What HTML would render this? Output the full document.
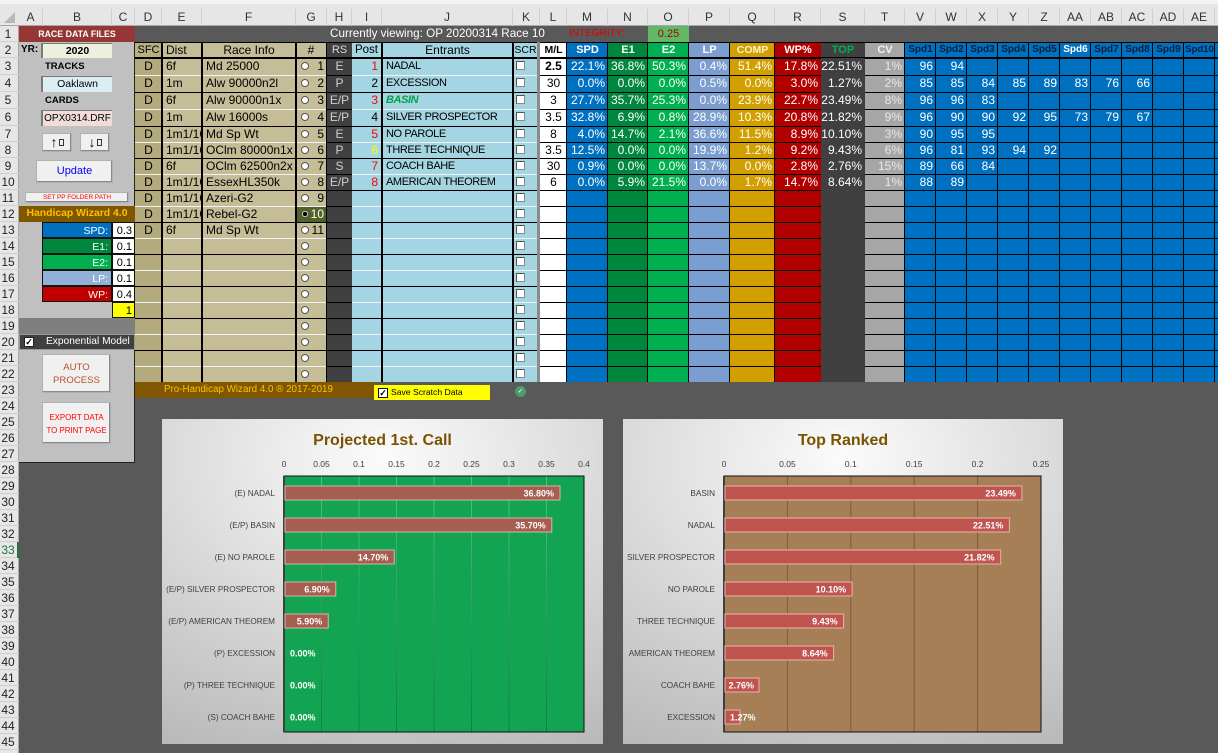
<!DOCTYPE html>
<html><head><meta charset="utf-8">
<style>
*{margin:0;padding:0;box-sizing:border-box}
body{width:1218px;height:753px;overflow:hidden;background:#595959}
#w{position:relative;width:1218px;height:753px;overflow:hidden;background:#595959;font-family:"Liberation Sans",Arial,sans-serif;font-size:12px;color:#000}
.a{position:absolute}
.t{position:absolute;white-space:nowrap;overflow:hidden;top:0;height:100%}
.rw{position:absolute;left:0;width:1218px}
.c{text-align:center}
.r{text-align:right;padding-right:3px}
.l{padding-left:3px}
.w{color:#fff}
.tc{color:#e8e8e8}
.cD{left:135px;width:27px}
.cE{left:163px;width:38px}
.cF{left:203px;width:92px}
.cG{left:296px;width:31px}
.cH{left:327px;width:25px}
.cI{left:352px;width:29px}
.cJ{left:383px;width:129px}
.cK{left:513px;width:27px}
.cL{left:540px;width:27px}
.cM{left:567px;width:41px}
.cN{left:608px;width:40px}
.cO{left:648px;width:41px}
.cP{left:689px;width:41px}
.cQ{left:730px;width:45px}
.cR{left:775px;width:46px}
.cS{left:821px;width:44px}
.cT{left:865px;width:40px}
.v{width:31px}
.v1{left:905px}.v2{left:936px}.v3{left:967px}.v4{left:998px}.v5{left:1029px}.v6{left:1060px}.v7{left:1091px}.v8{left:1122px}.v9{left:1153px}.v10{left:1184px}
.nm{font-size:11px;letter-spacing:-.4px}
.hc{color:#d0d0d0}
.rd{position:absolute;left:301px;top:4px;width:8px;height:8px;border-radius:50%;background:#fff;border:1px solid #555}
.cb{position:absolute;left:516px;top:3px;width:9px;height:9px;background:#fff;border:1px solid #8a8a8a;border-top-color:#555;border-left-color:#555}
.hl{position:absolute;height:1px;background:#000;left:135px;width:1083px}
.hw{position:absolute;height:1px;background:#eef3f3}
.vl{position:absolute;width:1px;top:42px;height:340px;background:#000}
.vb{position:absolute;width:2px;top:42px;height:340px;background:#000}
.ch{position:absolute;top:9px;height:17px;line-height:17px;text-align:center;color:#333;font-size:12px;border-right:1px solid #cfcfcf}
.rn{position:absolute;left:0;width:19px;padding-right:3px;text-align:center;font-size:12px;color:#222;border-bottom:1px solid #cfcfcf}
.btn{position:absolute;background:#f0f0f0;border:1px solid #b0b0b0;box-shadow:inset -1px -1px 0 #8a8a8a;text-align:center}
.bg{position:absolute}
.hd{position:absolute;top:42px;height:16px;line-height:16px;text-align:center;white-space:nowrap;overflow:hidden}
</style></head><body><div id="w">

<!-- column header -->
<div class="bg" style="left:0;top:0;width:1218px;height:26px;background:#e6e6e6;border-bottom:1px solid #a8a8a8"></div>
<div class="bg" style="left:0;top:0;width:1218px;height:4px;background:#f4f4f4"></div>
<div class="bg" style="left:4px;top:12px;width:0;height:0;border-left:11px solid transparent;border-bottom:11px solid #b8b8b8"></div>
<div class="ch" style="left:19px;width:24px">A</div>
<div class="ch" style="left:43px;width:69px">B</div>
<div class="ch" style="left:112px;width:23px">C</div>
<div class="ch" style="left:135px;width:27px">D</div>
<div class="ch" style="left:162px;width:40px">E</div>
<div class="ch" style="left:202px;width:94px">F</div>
<div class="ch" style="left:296px;width:31px">G</div>
<div class="ch" style="left:327px;width:25px">H</div>
<div class="ch" style="left:352px;width:30px">I</div>
<div class="ch" style="left:382px;width:131px">J</div>
<div class="ch" style="left:513px;width:27px">K</div>
<div class="ch" style="left:540px;width:27px">L</div>
<div class="ch" style="left:567px;width:41px">M</div>
<div class="ch" style="left:608px;width:40px">N</div>
<div class="ch" style="left:648px;width:41px">O</div>
<div class="ch" style="left:689px;width:41px">P</div>
<div class="ch" style="left:730px;width:45px">Q</div>
<div class="ch" style="left:775px;width:46px">R</div>
<div class="ch" style="left:821px;width:44px">S</div>
<div class="ch" style="left:865px;width:40px">T</div>
<div class="ch" style="left:905px;width:31px">V</div>
<div class="ch" style="left:936px;width:31px">W</div>
<div class="ch" style="left:967px;width:31px">X</div>
<div class="ch" style="left:998px;width:31px">Y</div>
<div class="ch" style="left:1029px;width:31px">Z</div>
<div class="ch" style="left:1060px;width:31px">AA</div>
<div class="ch" style="left:1091px;width:31px">AB</div>
<div class="ch" style="left:1122px;width:31px">AC</div>
<div class="ch" style="left:1153px;width:31px">AD</div>
<div class="ch" style="left:1184px;width:31px">AE</div>

<!-- row header -->
<div class="bg" style="left:0;top:26px;width:19px;height:727px;background:#e6e6e6;border-right:1px solid #a8a8a8"></div>
<div class="rn" style="top:26px;height:16px;line-height:16px">1</div>
<div class="rn" style="top:42px;height:16px;line-height:16px">2</div>
<div class="rn" style="top:58px;height:17px;line-height:17px">3</div>
<div class="rn" style="top:75px;height:17px;line-height:17px">4</div>
<div class="rn" style="top:92px;height:17px;line-height:17px">5</div>
<div class="rn" style="top:109px;height:17px;line-height:17px">6</div>
<div class="rn" style="top:126px;height:16px;line-height:16px">7</div>
<div class="rn" style="top:142px;height:16px;line-height:16px">8</div>
<div class="rn" style="top:158px;height:16px;line-height:16px">9</div>
<div class="rn" style="top:174px;height:16px;line-height:16px">10</div>
<div class="rn" style="top:190px;height:16px;line-height:16px">11</div>
<div class="rn" style="top:206px;height:16px;line-height:16px">12</div>
<div class="rn" style="top:222px;height:16px;line-height:16px">13</div>
<div class="rn" style="top:238px;height:16px;line-height:16px">14</div>
<div class="rn" style="top:254px;height:16px;line-height:16px">15</div>
<div class="rn" style="top:270px;height:16px;line-height:16px">16</div>
<div class="rn" style="top:286px;height:16px;line-height:16px">17</div>
<div class="rn" style="top:302px;height:16px;line-height:16px">18</div>
<div class="rn" style="top:318px;height:16px;line-height:16px">19</div>
<div class="rn" style="top:334px;height:16px;line-height:16px">20</div>
<div class="rn" style="top:350px;height:16px;line-height:16px">21</div>
<div class="rn" style="top:366px;height:16px;line-height:16px">22</div>
<div class="rn" style="top:382px;height:16px;line-height:16px">23</div>
<div class="rn" style="top:398px;height:16px;line-height:16px">24</div>
<div class="rn" style="top:414px;height:16px;line-height:16px">25</div>
<div class="rn" style="top:430px;height:16px;line-height:16px">26</div>
<div class="rn" style="top:446px;height:16px;line-height:16px">27</div>
<div class="rn" style="top:462px;height:16px;line-height:16px">28</div>
<div class="rn" style="top:478px;height:16px;line-height:16px">29</div>
<div class="rn" style="top:494px;height:16px;line-height:16px">30</div>
<div class="rn" style="top:510px;height:16px;line-height:16px">31</div>
<div class="rn" style="top:526px;height:16px;line-height:16px">32</div>
<div class="rn" style="top:542px;height:16px;line-height:16px;color:#217346">33</div>
<div class="bg" style="left:17px;top:542px;width:2px;height:16px;background:#217346"></div>
<div class="rn" style="top:558px;height:16px;line-height:16px">34</div>
<div class="rn" style="top:574px;height:16px;line-height:16px">35</div>
<div class="rn" style="top:590px;height:16px;line-height:16px">36</div>
<div class="rn" style="top:606px;height:16px;line-height:16px">37</div>
<div class="rn" style="top:622px;height:16px;line-height:16px">38</div>
<div class="rn" style="top:638px;height:16px;line-height:16px">39</div>
<div class="rn" style="top:654px;height:16px;line-height:16px">40</div>
<div class="rn" style="top:670px;height:16px;line-height:16px">41</div>
<div class="rn" style="top:686px;height:16px;line-height:16px">42</div>
<div class="rn" style="top:702px;height:16px;line-height:16px">43</div>
<div class="rn" style="top:718px;height:16px;line-height:16px">44</div>
<div class="rn" style="top:734px;height:16px;line-height:16px">45</div>

<!-- left panel -->
<div class="bg" style="left:19px;top:26px;width:116px;height:16px;background:#953735;color:#fff;font-weight:bold;font-size:8.8px;line-height:16px;text-align:center">RACE DATA FILES</div>
<div class="bg" style="left:19px;top:42px;width:116px;height:421px;background:#c0c0c0;border-right:1px solid #222;border-bottom:1px solid #222"></div>
<div class="bg" style="left:21px;top:42px;height:16px;line-height:16px;font-weight:bold;font-size:10px">YR:</div>
<div class="bg" style="left:41px;top:43px;width:71px;height:15px;line-height:14px;background:#ebf1de;border-left:2px solid #7a7a7a;border-top:1px solid #7a7a7a;text-align:center;font-weight:bold;font-size:10.5px">2020</div>
<div class="bg" style="left:45px;top:58px;height:17px;line-height:17px;font-weight:bold;font-size:9.5px">TRACKS</div>
<div class="bg" style="left:41px;top:76px;width:71px;height:16px;line-height:15px;background:#daeef3;border-left:2px solid #7a7a7a;border-top:1px solid #7a7a7a;text-align:center;font-size:10.5px">Oaklawn</div>
<div class="bg" style="left:45px;top:92px;height:17px;line-height:17px;font-weight:bold;font-size:9.5px">CARDS</div>
<div class="bg" style="left:41px;top:110px;width:71px;height:16px;line-height:15px;background:#f2dcdb;border-left:2px solid #7a7a7a;border-top:1px solid #7a7a7a;text-align:center;font-size:10px">OPX0314.DRF</div>
<div class="btn" style="left:42px;top:133px;width:30px;height:19px;line-height:17px;font-weight:bold;font-size:14px">↑<span style="display:inline-block;width:5px;height:7px;border:1px solid #333;margin-left:1px;vertical-align:1px"></span></div>
<div class="btn" style="left:80px;top:133px;width:30px;height:19px;line-height:17px;font-weight:bold;font-size:14px">↓<span style="display:inline-block;width:5px;height:7px;border:1px solid #333;margin-left:1px;vertical-align:1px"></span></div>
<div class="btn" style="left:36px;top:160px;width:77px;height:23px;line-height:21px;color:#0000ff;font-size:11px">Update</div>
<div class="btn" style="left:25px;top:192px;width:104px;height:11px;line-height:10px;color:#ff0000;font-size:6.4px">SET PP FOLDER PATH</div>
<div class="bg" style="left:19px;top:206px;width:116px;height:16px;line-height:16px;background:#7f5700;color:#ffc000;font-weight:bold;font-size:10.4px;text-align:center">Handicap Wizard 4.0</div>
<div class="bg" style="left:42px;top:222px;width:70px;height:16px;line-height:16px;background:#0070c0;color:#fff;text-align:right;padding-right:3px;font-size:10.5px;border:1px solid #111">SPD:</div>
<div class="bg" style="left:42px;top:238px;width:70px;height:16px;line-height:16px;background:#00863d;color:#fff;text-align:right;padding-right:3px;font-size:10.5px;border:1px solid #111">E1:</div>
<div class="bg" style="left:42px;top:254px;width:70px;height:16px;line-height:16px;background:#00b050;color:#fff;text-align:right;padding-right:3px;font-size:10.5px;border:1px solid #111">E2:</div>
<div class="bg" style="left:42px;top:270px;width:70px;height:16px;line-height:16px;background:#92b0d8;color:#fff;text-align:right;padding-right:3px;font-size:10.5px;border:1px solid #111">LP:</div>
<div class="bg" style="left:42px;top:286px;width:70px;height:16px;line-height:16px;background:#c00000;color:#fff;text-align:right;padding-right:3px;font-size:10.5px;border:1px solid #111">WP:</div>
<div class="bg" style="left:112px;top:222px;width:23px;height:16px;line-height:16px;background:#fff;text-align:right;padding-right:2px;font-size:11px;border:1px solid #111">0.3</div>
<div class="bg" style="left:112px;top:238px;width:23px;height:16px;line-height:16px;background:#fff;text-align:right;padding-right:2px;font-size:11px;border:1px solid #111">0.1</div>
<div class="bg" style="left:112px;top:254px;width:23px;height:16px;line-height:16px;background:#fff;text-align:right;padding-right:2px;font-size:11px;border:1px solid #111">0.1</div>
<div class="bg" style="left:112px;top:270px;width:23px;height:16px;line-height:16px;background:#fff;text-align:right;padding-right:2px;font-size:11px;border:1px solid #111">0.1</div>
<div class="bg" style="left:112px;top:286px;width:23px;height:16px;line-height:16px;background:#fff;text-align:right;padding-right:2px;font-size:11px;border:1px solid #111">0.4</div>
<div class="bg" style="left:112px;top:302px;width:23px;height:16px;line-height:16px;background:#ffff00;text-align:right;padding-right:2px;font-size:11px;border:1px solid #111">1</div>
<div class="bg" style="left:19px;top:318px;width:116px;height:16px;background:#7f7f7f"></div>
<div class="bg" style="left:19px;top:334px;width:116px;height:16px;background:#404040;border:1px solid #9a9a9a"></div>
<div class="bg" style="left:24px;top:337px;width:10px;height:10px;background:#fff;border:1px solid #222;font-size:9px;line-height:8px;text-align:center;font-weight:bold">✓</div>
<div class="bg" style="left:46px;top:334px;height:16px;line-height:16px;color:#fff;font-size:10.2px">Exponential Model</div>
<div class="btn" style="left:42px;top:354px;width:69px;height:39px;padding-top:6px;line-height:13px;color:#b5502d;font-size:9.6px">AUTO<br>PROCESS</div>
<div class="btn" style="left:42px;top:402px;width:69px;height:42px;padding-top:8px;line-height:13px;color:#ff0000;font-size:7.9px">EXPORT DATA<br>TO PRINT PAGE</div>

<!-- row 1 -->
<div class="bg" style="left:330px;top:26px;height:16px;line-height:16px;color:#fff;font-size:11.7px;white-space:nowrap">Currently viewing: OP 20200314 Race 10</div>
<div class="bg" style="left:569px;top:26px;height:16px;line-height:16px;color:#e00000;font-size:10px">INTEGRITY:</div>
<div class="bg" style="left:648px;top:26px;width:41px;height:16px;line-height:16px;background:#63b866;color:#9c0006;font-size:11px;text-align:center">0.25</div>

<!-- row 2 header backgrounds -->
<div class="bg" style="left:135px;top:42px;width:27px;height:16px;background:#b8af84"></div>
<div class="bg" style="left:162px;top:42px;width:165px;height:16px;background:#c4bd97"></div>
<div class="bg" style="left:327px;top:42px;width:25px;height:16px;background:#404040"></div>
<div class="bg" style="left:352px;top:42px;width:188px;height:16px;background:#a5d5e2"></div>
<div class="bg" style="left:540px;top:42px;width:27px;height:16px;background:#fff"></div>
<div class="bg" style="left:567px;top:42px;width:41px;height:16px;background:#0070c0"></div>
<div class="bg" style="left:608px;top:42px;width:40px;height:16px;background:#00863d"></div>
<div class="bg" style="left:648px;top:42px;width:41px;height:16px;background:#00b050"></div>
<div class="bg" style="left:689px;top:42px;width:41px;height:16px;background:#7b9dd0"></div>
<div class="bg" style="left:730px;top:42px;width:45px;height:16px;background:#d19f00"></div>
<div class="bg" style="left:775px;top:42px;width:46px;height:16px;background:#b20000"></div>
<div class="bg" style="left:821px;top:42px;width:44px;height:16px;background:#404040"></div>
<div class="bg" style="left:865px;top:42px;width:40px;height:16px;background:#a6a6a6"></div>
<div class="bg" style="left:905px;top:42px;width:313px;height:16px;background:#0070c0"></div>

<!-- data column strips rows 3-22 -->
<div class="bg" style="left:135px;top:58px;width:27px;height:324px;background:#b3aa7e"></div>
<div class="bg" style="left:162px;top:58px;width:165px;height:324px;background:#c4bd97"></div>
<div class="bg" style="left:296px;top:206px;width:31px;height:16px;background:#4f6228"></div>
<div class="bg" style="left:327px;top:58px;width:25px;height:324px;background:#404040"></div>
<div class="bg" style="left:352px;top:58px;width:188px;height:324px;background:#a5d5e2"></div>
<div class="bg" style="left:540px;top:58px;width:27px;height:324px;background:#fff"></div>
<div class="bg" style="left:567px;top:58px;width:41px;height:324px;background:#0070c0"></div>
<div class="bg" style="left:608px;top:58px;width:40px;height:324px;background:#00863d"></div>
<div class="bg" style="left:648px;top:58px;width:41px;height:324px;background:#00b050"></div>
<div class="bg" style="left:689px;top:58px;width:41px;height:324px;background:#7b9dd0"></div>
<div class="bg" style="left:730px;top:58px;width:45px;height:324px;background:#d19f00"></div>
<div class="bg" style="left:775px;top:58px;width:46px;height:324px;background:#b20000"></div>
<div class="bg" style="left:865px;top:58px;width:40px;height:324px;background:#a6a6a6"></div>
<div class="bg" style="left:905px;top:58px;width:313px;height:324px;background:#0070c0"></div>

<!-- horizontal lines -->
<div class="hl" style="top:42px"></div>
<div class="hl" style="top:57px;height:2px"></div>
<div class="hl" style="top:75px"></div><div class="hl" style="top:92px"></div><div class="hl" style="top:109px"></div><div class="hl" style="top:126px"></div><div class="hl" style="top:142px"></div><div class="hl" style="top:158px"></div><div class="hl" style="top:174px"></div><div class="hl" style="top:190px"></div><div class="hl" style="top:206px"></div><div class="hl" style="top:222px"></div><div class="hl" style="top:238px"></div><div class="hl" style="top:254px"></div><div class="hl" style="top:270px"></div><div class="hl" style="top:286px"></div><div class="hl" style="top:302px"></div><div class="hl" style="top:318px"></div><div class="hl" style="top:334px"></div><div class="hl" style="top:350px"></div><div class="hl" style="top:366px"></div>
<div class="hw" style="top:75px;left:135px;width:192px"></div><div class="hw" style="top:75px;left:352px;width:188px"></div>
<div class="hw" style="top:109px;left:135px;width:192px"></div><div class="hw" style="top:109px;left:352px;width:188px"></div>
<div class="hw" style="top:142px;left:135px;width:192px"></div><div class="hw" style="top:142px;left:352px;width:188px"></div>
<div class="hw" style="top:174px;left:135px;width:192px"></div><div class="hw" style="top:174px;left:352px;width:188px"></div>
<div class="hw" style="top:206px;left:135px;width:192px"></div><div class="hw" style="top:206px;left:352px;width:188px"></div>
<div class="hw" style="top:238px;left:135px;width:192px"></div><div class="hw" style="top:238px;left:352px;width:188px"></div>
<div class="hw" style="top:270px;left:135px;width:192px"></div><div class="hw" style="top:270px;left:352px;width:188px"></div>
<div class="hw" style="top:302px;left:135px;width:192px"></div><div class="hw" style="top:302px;left:352px;width:188px"></div>
<div class="hw" style="top:334px;left:135px;width:192px"></div><div class="hw" style="top:334px;left:352px;width:188px"></div>
<div class="hw" style="top:366px;left:135px;width:192px"></div><div class="hw" style="top:366px;left:352px;width:188px"></div>

<!-- S column strip over lines -->
<div class="bg" style="left:821px;top:58px;width:44px;height:324px;background:#404040"></div>

<!-- vertical lines -->
<div class="vb" style="left:161px"></div><div class="vb" style="left:201px"></div><div class="vb" style="left:295px"></div><div class="vb" style="left:381px"></div><div class="vb" style="left:512px"></div>
<div class="vl" style="left:326px"></div>
<div class="bg" style="left:537px;top:42px;width:3px;height:340px;background:#8c8c8c"></div>
<div class="vl" style="left:566px"></div><div class="vl" style="left:607px"></div><div class="vl" style="left:647px"></div><div class="vl" style="left:688px"></div><div class="vl" style="left:729px"></div><div class="vl" style="left:774px"></div>
<div class="vl" style="left:904px"></div><div class="vl" style="left:935px"></div><div class="vl" style="left:966px"></div><div class="vl" style="left:997px"></div><div class="vl" style="left:1028px"></div><div class="vl" style="left:1059px"></div><div class="vl" style="left:1090px"></div><div class="vl" style="left:1121px"></div><div class="vl" style="left:1152px"></div><div class="vl" style="left:1183px"></div><div class="vl" style="left:1214px"></div>

<!-- row 2 header text -->
<div class="hd" style="left:135px;width:27px;font-size:11px">SFC</div>
<div class="hd" style="left:163px;width:38px;text-align:left;padding-left:3px">Dist</div>
<div class="hd" style="left:203px;width:92px">Race Info</div>
<div class="hd" style="left:296px;width:30px">#</div>
<div class="hd" style="left:327px;width:25px;color:#d9d9d9;font-size:11px">RS</div>
<div class="hd" style="left:352px;width:29px;font-size:11.5px">Post</div>
<div class="hd" style="left:383px;width:129px">Entrants</div>
<div class="hd" style="left:513px;width:25px;font-size:10.5px">SCR</div>
<div class="hd" style="left:540px;width:27px;font-weight:bold;font-size:10.5px">M/L</div>
<div class="hd" style="left:567px;width:41px;color:#fff;font-weight:bold;font-size:11px">SPD</div>
<div class="hd" style="left:608px;width:40px;color:#fff;font-weight:bold;font-size:11px">E1</div>
<div class="hd" style="left:648px;width:41px;color:#fff;font-weight:bold;font-size:11px">E2</div>
<div class="hd" style="left:689px;width:41px;color:#fff;font-weight:bold;font-size:11px">LP</div>
<div class="hd" style="left:730px;width:45px;color:#fff3cc;font-weight:bold;font-size:10.5px">COMP</div>
<div class="hd" style="left:775px;width:46px;color:#fff;font-weight:bold;font-size:11px">WP%</div>
<div class="hd" style="left:821px;width:44px;color:#00b050;font-weight:bold;font-size:11px">TOP</div>
<div class="hd" style="left:865px;width:40px;color:#f2f2f2;font-weight:bold;font-size:11px">CV</div>
<div class="hd" style="left:905px;width:31px;color:#0d1f3a;font-weight:bold;font-size:10px">Spd1</div>
<div class="hd" style="left:936px;width:31px;color:#0d1f3a;font-weight:bold;font-size:10px">Spd2</div>
<div class="hd" style="left:967px;width:31px;color:#0d1f3a;font-weight:bold;font-size:10px">Spd3</div>
<div class="hd" style="left:998px;width:31px;color:#0d1f3a;font-weight:bold;font-size:10px">Spd4</div>
<div class="hd" style="left:1029px;width:31px;color:#0d1f3a;font-weight:bold;font-size:10px">Spd5</div>
<div class="hd" style="left:1060px;width:31px;color:#fff;font-weight:bold;font-size:10px">Spd6</div>
<div class="hd" style="left:1091px;width:31px;color:#0d1f3a;font-weight:bold;font-size:10px">Spd7</div>
<div class="hd" style="left:1122px;width:31px;color:#0d1f3a;font-weight:bold;font-size:10px">Spd8</div>
<div class="hd" style="left:1153px;width:31px;color:#0d1f3a;font-weight:bold;font-size:10px">Spd9</div>
<div class="hd" style="left:1184px;width:31px;color:#0d1f3a;font-weight:bold;font-size:9.5px">Spd10</div>

<!-- data rows -->
<div class="rw" style="top:58px;height:17px;line-height:17px">
<span class="t cD c">D</span><span class="t cE l">6f</span><span class="t cF l">Md 25000</span><span class="rd"></span><span class="t cG r">1</span><span class="t cH c hc">E</span><span class="t cI r" style="color:#f00">1</span><span class="t cJ l nm">NADAL</span><span class="cb"></span><span class="t cL c" style="font-weight:bold">2.5</span><span class="t cM r w">22.1%</span><span class="t cN r w">36.8%</span><span class="t cO r w">50.3%</span><span class="t cP r w">0.4%</span><span class="t cQ r w">51.4%</span><span class="t cR r w">17.8%</span><span class="t cS r w">22.51%</span><span class="t cT r tc">1%</span><span class="t v v1 r w">96</span><span class="t v v2 r w">94</span>
</div>
<div class="rw" style="top:75px;height:17px;line-height:17px">
<span class="t cD c">D</span><span class="t cE l">1m</span><span class="t cF l">Alw 90000n2l</span><span class="rd"></span><span class="t cG r">2</span><span class="t cH c hc">P</span><span class="t cI r">2</span><span class="t cJ l nm">EXCESSION</span><span class="cb"></span><span class="t cL c">30</span><span class="t cM r w">0.0%</span><span class="t cN r w">0.0%</span><span class="t cO r w">0.0%</span><span class="t cP r w">0.5%</span><span class="t cQ r w">0.0%</span><span class="t cR r w">3.0%</span><span class="t cS r w">1.27%</span><span class="t cT r tc">2%</span><span class="t v v1 r w">85</span><span class="t v v2 r w">85</span><span class="t v v3 r w">84</span><span class="t v v4 r w">85</span><span class="t v v5 r w">89</span><span class="t v v6 r w">83</span><span class="t v v7 r w">76</span><span class="t v v8 r w">66</span>
</div>
<div class="rw" style="top:92px;height:17px;line-height:17px">
<span class="t cD c">D</span><span class="t cE l">6f</span><span class="t cF l">Alw 90000n1x</span><span class="rd"></span><span class="t cG r">3</span><span class="t cH c hc">E/P</span><span class="t cI r" style="color:#f00">3</span><span class="t cJ l nm" style="color:#00a050;font-style:italic;font-weight:bold">BASIN</span><span class="cb"></span><span class="t cL c">3</span><span class="t cM r w">27.7%</span><span class="t cN r w">35.7%</span><span class="t cO r w">25.3%</span><span class="t cP r w">0.0%</span><span class="t cQ r w">23.9%</span><span class="t cR r w">22.7%</span><span class="t cS r w">23.49%</span><span class="t cT r tc">8%</span><span class="t v v1 r w">96</span><span class="t v v2 r w">96</span><span class="t v v3 r w">83</span>
</div>
<div class="rw" style="top:109px;height:17px;line-height:17px">
<span class="t cD c">D</span><span class="t cE l">1m</span><span class="t cF l">Alw 16000s</span><span class="rd"></span><span class="t cG r">4</span><span class="t cH c hc">E/P</span><span class="t cI r">4</span><span class="t cJ l nm">SILVER PROSPECTOR</span><span class="cb"></span><span class="t cL c">3.5</span><span class="t cM r w">32.8%</span><span class="t cN r w">6.9%</span><span class="t cO r w">0.8%</span><span class="t cP r w">28.9%</span><span class="t cQ r w">10.3%</span><span class="t cR r w">20.8%</span><span class="t cS r w">21.82%</span><span class="t cT r tc">9%</span><span class="t v v1 r w">96</span><span class="t v v2 r w">90</span><span class="t v v3 r w">90</span><span class="t v v4 r w">92</span><span class="t v v5 r w">95</span><span class="t v v6 r w">73</span><span class="t v v7 r w">79</span><span class="t v v8 r w">67</span>
</div>
<div class="rw" style="top:126px;height:16px;line-height:16px">
<span class="t cD c">D</span><span class="t cE l">1m1/16</span><span class="t cF l">Md Sp Wt</span><span class="rd"></span><span class="t cG r">5</span><span class="t cH c hc">E</span><span class="t cI r" style="color:#f00">5</span><span class="t cJ l nm">NO PAROLE</span><span class="cb"></span><span class="t cL c">8</span><span class="t cM r w">4.0%</span><span class="t cN r w">14.7%</span><span class="t cO r w">2.1%</span><span class="t cP r w">36.6%</span><span class="t cQ r w">11.5%</span><span class="t cR r w">8.9%</span><span class="t cS r w">10.10%</span><span class="t cT r tc">3%</span><span class="t v v1 r w">90</span><span class="t v v2 r w">95</span><span class="t v v3 r w">95</span>
</div>
<div class="rw" style="top:142px;height:16px;line-height:16px">
<span class="t cD c">D</span><span class="t cE l">1m1/16</span><span class="t cF l">OClm 80000n1x</span><span class="rd"></span><span class="t cG r">6</span><span class="t cH c hc">P</span><span class="t cI r" style="color:#ffff00">6</span><span class="t cJ l nm">THREE TECHNIQUE</span><span class="cb"></span><span class="t cL c">3.5</span><span class="t cM r w">12.5%</span><span class="t cN r w">0.0%</span><span class="t cO r w">0.0%</span><span class="t cP r w">19.9%</span><span class="t cQ r w">1.2%</span><span class="t cR r w">9.2%</span><span class="t cS r w">9.43%</span><span class="t cT r tc">6%</span><span class="t v v1 r w">96</span><span class="t v v2 r w">81</span><span class="t v v3 r w">93</span><span class="t v v4 r w">94</span><span class="t v v5 r w">92</span>
</div>
<div class="rw" style="top:158px;height:16px;line-height:16px">
<span class="t cD c">D</span><span class="t cE l">6f</span><span class="t cF l">OClm 62500n2x</span><span class="rd"></span><span class="t cG r">7</span><span class="t cH c hc">S</span><span class="t cI r" style="color:#f00">7</span><span class="t cJ l nm">COACH BAHE</span><span class="cb"></span><span class="t cL c">30</span><span class="t cM r w">0.9%</span><span class="t cN r w">0.0%</span><span class="t cO r w">0.0%</span><span class="t cP r w">13.7%</span><span class="t cQ r w">0.0%</span><span class="t cR r w">2.8%</span><span class="t cS r w">2.76%</span><span class="t cT r tc">15%</span><span class="t v v1 r w">89</span><span class="t v v2 r w">66</span><span class="t v v3 r w">84</span>
</div>
<div class="rw" style="top:174px;height:16px;line-height:16px">
<span class="t cD c">D</span><span class="t cE l">1m1/16</span><span class="t cF l">EssexHL350k</span><span class="rd"></span><span class="t cG r">8</span><span class="t cH c hc">E/P</span><span class="t cI r" style="color:#f00">8</span><span class="t cJ l nm">AMERICAN THEOREM</span><span class="cb"></span><span class="t cL c">6</span><span class="t cM r w">0.0%</span><span class="t cN r w">5.9%</span><span class="t cO r w">21.5%</span><span class="t cP r w">0.0%</span><span class="t cQ r w">1.7%</span><span class="t cR r w">14.7%</span><span class="t cS r w">8.64%</span><span class="t cT r tc">1%</span><span class="t v v1 r w">88</span><span class="t v v2 r w">89</span>
</div>
<div class="rw" style="top:190px;height:16px;line-height:16px">
<span class="t cD c">D</span><span class="t cE l">1m1/16</span><span class="t cF l">Azeri-G2</span><span class="rd"></span><span class="t cG r">9</span><span class="cb"></span>
</div>
<div class="rw" style="top:206px;height:16px;line-height:16px">
<span class="t cD c">D</span><span class="t cE l">1m1/16</span><span class="t cF l">Rebel-G2</span><span class="rd" style="background:radial-gradient(circle,#000 0 2px,#fff 2.5px)"></span><span class="t cG r" style="color:#fff">10</span><span class="cb"></span>
</div>
<div class="rw" style="top:222px;height:16px;line-height:16px">
<span class="t cD c">D</span><span class="t cE l">6f</span><span class="t cF l">Md Sp Wt</span><span class="rd"></span><span class="t cG r">11</span><span class="cb"></span>
</div>
<div class="rw" style="top:238px;height:16px"><span class="rd"></span><span class="cb"></span></div>
<div class="rw" style="top:254px;height:16px"><span class="rd"></span><span class="cb"></span></div>
<div class="rw" style="top:270px;height:16px"><span class="rd"></span><span class="cb"></span></div>
<div class="rw" style="top:286px;height:16px"><span class="rd"></span><span class="cb"></span></div>
<div class="rw" style="top:302px;height:16px"><span class="rd"></span><span class="cb"></span></div>
<div class="rw" style="top:318px;height:16px"><span class="rd"></span><span class="cb"></span></div>
<div class="rw" style="top:334px;height:16px"><span class="rd"></span><span class="cb"></span></div>
<div class="rw" style="top:350px;height:16px"><span class="rd"></span><span class="cb"></span></div>
<div class="rw" style="top:366px;height:16px"><span class="rd"></span><span class="cb"></span></div>

<!-- row 23 -->
<div class="bg" style="left:135px;top:382px;width:241px;height:16px;background:#7f5700"></div>
<div class="bg" style="left:164px;top:382px;height:16px;line-height:16px;color:#ffc000;font-size:9.8px;white-space:nowrap">Pro-Handicap Wizard 4.0 ® 2017-2019</div>
<div class="bg" style="left:374px;top:385px;width:116px;height:15px;background:#ffff00"></div>
<div class="bg" style="left:378px;top:388px;width:10px;height:10px;background:#fff;border:1px solid #111;font-size:9px;line-height:8px;text-align:center;font-weight:bold">✓</div>
<div class="bg" style="left:391px;top:385px;height:15px;line-height:15px;font-size:8.6px;white-space:nowrap">Save Scratch Data</div>
<div class="bg" style="left:515px;top:386px;width:11px;height:11px;border-radius:50%;background:#4d9b6e;color:#fff;font-size:7px;line-height:11px;text-align:center">✓</div>

<!-- chart 1 -->
<svg class="a" style="left:162px;top:419px" width="441" height="325" font-family="Liberation Sans, Arial, sans-serif">
<defs>
<radialGradient id="g1" cx="50%" cy="12%" r="100%"><stop offset="0" stop-color="#fbfbfb"/><stop offset="1" stop-color="#b9b9b9"/></radialGradient>
<linearGradient id="gl1" gradientUnits="userSpaceOnUse" x1="0" y1="57" x2="0" y2="313"><stop offset="0" stop-color="#55c184"/><stop offset="1" stop-color="#0b8040"/></linearGradient>
</defs>
<rect x="0" y="0" width="441" height="325" fill="url(#g1)"/>
<text x="220.5" y="26" text-anchor="middle" font-size="16" font-weight="bold" fill="#7a5300">Projected 1st. Call</text>
<g font-size="8.5" fill="#404040" text-anchor="middle">
<text x="122" y="48">0</text><text x="159.5" y="48">0.05</text><text x="197" y="48">0.1</text><text x="234.5" y="48">0.15</text><text x="272" y="48">0.2</text><text x="309.5" y="48">0.25</text><text x="347" y="48">0.3</text><text x="384.5" y="48">0.35</text><text x="422" y="48">0.4</text>
</g>
<rect x="122" y="57" width="300" height="256" fill="#13a453"/>
<g stroke="url(#gl1)" stroke-width="1">
<line x1="159.5" y1="57" x2="159.5" y2="313"/><line x1="197" y1="57" x2="197" y2="313"/><line x1="234.5" y1="57" x2="234.5" y2="313"/><line x1="272" y1="57" x2="272" y2="313"/><line x1="309.5" y1="57" x2="309.5" y2="313"/><line x1="347" y1="57" x2="347" y2="313"/><line x1="384.5" y1="57" x2="384.5" y2="313"/>
</g>
<rect x="122" y="57" width="300" height="256" fill="none" stroke="#111" stroke-width="1"/>
<line x1="122" y1="57" x2="122" y2="313.5" stroke="#404040" stroke-width="2"/>
<g fill="#a65e50" stroke="#d8b4a8" stroke-width="1">
<rect x="123" y="67" width="275" height="14"/>
<rect x="123" y="99" width="266.75" height="14"/>
<rect x="123" y="131" width="109.25" height="14"/>
<rect x="123" y="163" width="50.75" height="14"/>
<rect x="123" y="195" width="43.25" height="14"/>
</g>
<g font-size="9" font-weight="bold" fill="#fff" text-anchor="end">
<text x="392" y="77.5">36.80%</text><text x="383.75" y="109.5">35.70%</text><text x="226.25" y="141.5">14.70%</text><text x="167.75" y="173.5">6.90%</text><text x="160.25" y="205.5">5.90%</text>
</g>
<g font-size="9" font-weight="bold" fill="#fff">
<text x="128" y="237.5">0.00%</text><text x="128" y="269.5">0.00%</text><text x="128" y="301.5">0.00%</text>
</g>
<g font-size="8.2" fill="#404040" text-anchor="end">
<text x="113" y="77">(E) NADAL</text><text x="113" y="109">(E/P) BASIN</text><text x="113" y="141">(E) NO PAROLE</text><text x="113" y="173">(E/P) SILVER PROSPECTOR</text><text x="113" y="205">(E/P) AMERICAN THEOREM</text><text x="113" y="237">(P) EXCESSION</text><text x="113" y="269">(P) THREE TECHNIQUE</text><text x="113" y="301">(S) COACH BAHE</text>
</g>
</svg>

<!-- chart 2 -->
<svg class="a" style="left:623px;top:419px" width="440" height="325" font-family="Liberation Sans, Arial, sans-serif">
<defs>
<radialGradient id="g2" cx="50%" cy="12%" r="100%"><stop offset="0" stop-color="#fbfbfb"/><stop offset="1" stop-color="#b9b9b9"/></radialGradient>
</defs>
<rect x="0" y="0" width="440" height="325" fill="url(#g2)"/>
<text x="220" y="26" text-anchor="middle" font-size="16" font-weight="bold" fill="#7a5300">Top Ranked</text>
<g font-size="8.5" fill="#404040" text-anchor="middle">
<text x="101" y="48">0</text><text x="164.4" y="48">0.05</text><text x="227.8" y="48">0.1</text><text x="291.2" y="48">0.15</text><text x="354.6" y="48">0.2</text><text x="418" y="48">0.25</text>
</g>
<rect x="101" y="57" width="317" height="256" fill="#a67f56"/>
<g stroke="#7d5c3c" stroke-width="1">
<line x1="164.4" y1="57" x2="164.4" y2="313"/><line x1="227.8" y1="57" x2="227.8" y2="313"/><line x1="291.2" y1="57" x2="291.2" y2="313"/><line x1="354.6" y1="57" x2="354.6" y2="313"/>
</g>
<rect x="101" y="57" width="317" height="256" fill="none" stroke="#111" stroke-width="1"/>
<line x1="101" y1="57" x2="101" y2="313.5" stroke="#404040" stroke-width="2"/>
<g fill="#c0554f" stroke="#e6b3aa" stroke-width="1">
<rect x="102" y="67" width="296.9" height="14"/>
<rect x="102" y="99" width="284.4" height="14"/>
<rect x="102" y="131" width="275.7" height="14"/>
<rect x="102" y="163" width="127.1" height="14"/>
<rect x="102" y="195" width="118.6" height="14"/>
<rect x="102" y="227" width="108.6" height="14"/>
<rect x="102" y="259" width="34" height="14"/>
<rect x="102" y="291" width="15.1" height="14"/>
</g>
<g font-size="9" font-weight="bold" fill="#fff" text-anchor="end">
<text x="392.9" y="77.5">23.49%</text><text x="380.4" y="109.5">22.51%</text><text x="371.7" y="141.5">21.82%</text><text x="223.1" y="173.5">10.10%</text><text x="214.6" y="205.5">9.43%</text><text x="204.6" y="237.5">8.64%</text><text x="131" y="269.5">2.76%</text>
</g>
<text x="107" y="301.5" font-size="9" font-weight="bold" fill="#fff">1.27%</text>
<g font-size="8.2" fill="#404040" text-anchor="end">
<text x="92" y="77">BASIN</text><text x="92" y="109">NADAL</text><text x="92" y="141">SILVER PROSPECTOR</text><text x="92" y="173">NO PAROLE</text><text x="92" y="205">THREE TECHNIQUE</text><text x="92" y="237">AMERICAN THEOREM</text><text x="92" y="269">COACH BAHE</text><text x="92" y="301">EXCESSION</text>
</g>
</svg>

</div></body></html>
